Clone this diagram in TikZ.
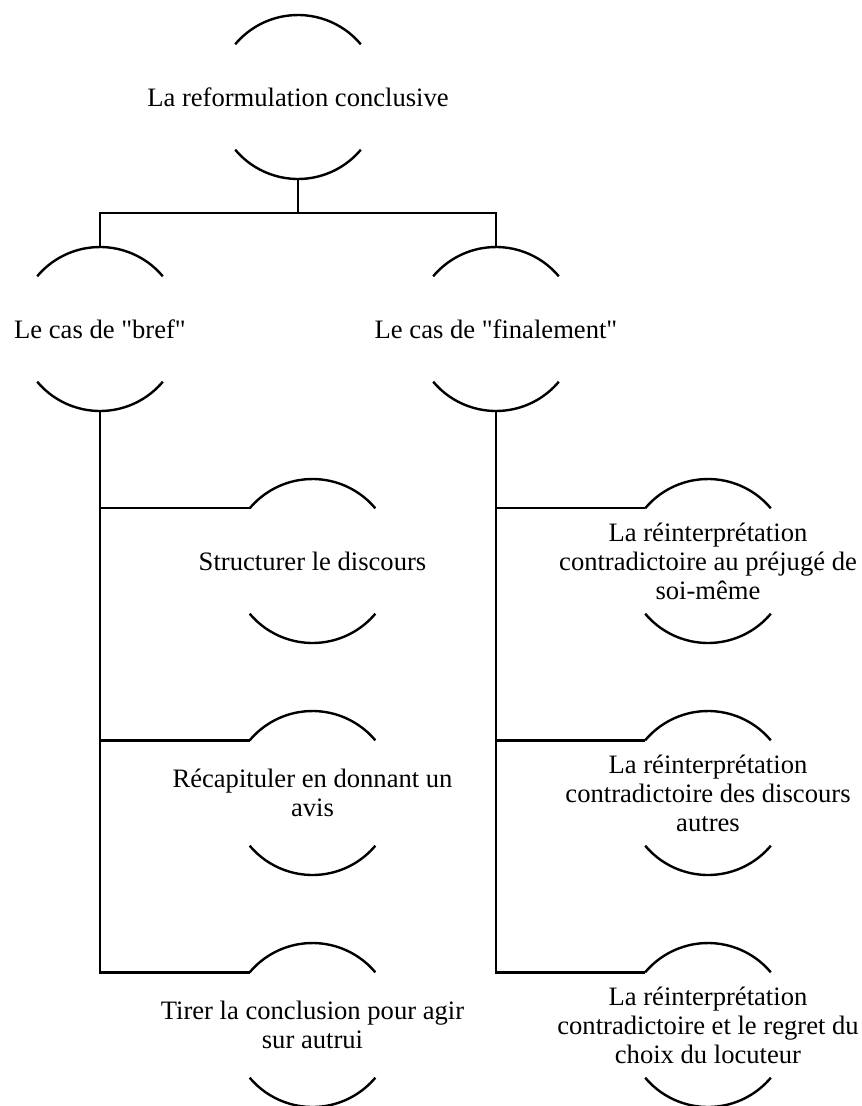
\documentclass[tikz,border=0pt]{standalone}
\usepackage{fontspec}
\setmainfont{Liberation Serif}[Ligatures=TeXOff]
\begin{document}
\begin{tikzpicture}[x=1pt,y=1pt,
  lbl/.style={inner sep=0pt, outer sep=0pt, align=center, font=\fontsize{26.6}{29}\selectfont},
  ln/.style={line width=2.4pt, black}]
\useasboundingbox (0,0) rectangle (862,-1106);
\node[lbl] (root) at (298,-97) {La reformulation conclusive};
\node[lbl] (bref) at (100,-329) {Le cas de "bref"};
\node[lbl] (fin) at (496,-329) {Le cas de "finalement"};
\node[lbl] (s1) at (312.5,-561) {Structurer le discours};
\node[lbl] (s2) at (312.5,-793) {Récapituler en donnant un\\avis};
\node[lbl] (s3) at (312.5,-1025) {Tirer la conclusion pour agir\\sur autrui};
\node[lbl] (f1) at (708,-561) {La réinterprétation\\contradictoire au préjugé de\\soi-même};
\node[lbl] (f2) at (708,-793) {La réinterprétation\\contradictoire des discours\\autres};
\node[lbl] (f3) at (708,-1025) {La réinterprétation\\contradictoire et le regret du\\choix du locuteur};
\foreach \n in {root,bref,fin,s1,s2,s3,f1,f2,f3}{
  \draw[ln] ([shift={(40:82)}]\n.center) arc[start angle=40,end angle=140,radius=82];
  \draw[ln] ([shift={(220:82)}]\n.center) arc[start angle=220,end angle=320,radius=82];
}
\draw[ln] ([yshift=-82pt]root.center) -- ++(0,-34) -| ([yshift=82pt]bref.center);
\draw[ln] ([yshift=-82pt]root.center) -- ++(0,-34) -| ([yshift=82pt]fin.center);
\foreach \n in {s1,s2,s3}{
  \draw[ln] ([yshift=-82pt]bref.center) |- ([shift={(140:82)}]\n.center);
}
\foreach \n in {f1,f2,f3}{
  \draw[ln] ([yshift=-82pt]fin.center) |- ([shift={(140:82)}]\n.center);
}
\end{tikzpicture}
\end{document}
